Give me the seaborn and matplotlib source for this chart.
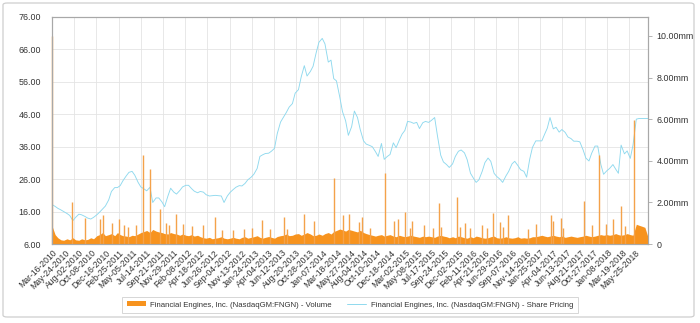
import matplotlib
matplotlib.use("Agg")
import matplotlib.pyplot as plt
import matplotlib.dates as mdates
from matplotlib.patches import Patch, FancyBboxPatch
from matplotlib.lines import Line2D
from matplotlib.ticker import FuncFormatter, FixedLocator
import seaborn as sns
import pandas as pd
import numpy as np

# ---------------- data ----------------
sample_start = "2010-03-15"
sample_end = "2018-08-01"

price = [
    18.2, 17.6, 17.0, 16.5, 16.0, 15.4, 14.8, 13.2, 14.2, 15.2,
    15.0, 14.5, 14.0, 13.7, 14.2, 15.0, 15.8, 16.8, 17.7, 19.6,
    22.2, 23.4, 23.4, 24.0, 25.5, 27.0, 28.1, 28.4, 27.2, 25.0,
    23.6, 23.0, 22.4, 23.5, 18.8, 20.2, 20.2, 19.0, 17.5, 20.8,
    23.2, 22.0, 21.4, 22.5, 23.6, 24.1, 24.1, 23.1, 22.3, 21.8,
    22.2, 22.0, 21.2, 20.8, 20.9, 21.0, 20.9, 20.8, 18.8, 20.8,
    21.9, 22.8, 23.5, 24.0, 23.9, 24.7, 25.8, 26.6, 27.5, 29.3,
    33.0, 33.5, 33.9, 34.0, 34.6, 35.5, 40.0, 43.6, 45.0,
    46.6, 48.2, 49.3, 52.5, 53.6, 57.5, 61.0, 57.8, 59.2, 60.8,
    65.0, 68.2, 69.4, 67.7, 62.1, 62.7, 57.0, 56.3, 51.3, 46.8,
    44.0, 39.5, 42.2, 47.0, 45.0, 41.3, 37.8, 36.8, 36.4, 36.0,
    34.5, 33.0, 37.0, 32.1, 33.0, 33.6, 37.2, 35.7, 38.1, 39.9,
    41.0, 43.8, 43.6, 43.2, 43.5, 41.6, 43.4, 43.8, 43.5, 44.1,
    45.0, 39.5, 33.4, 31.3, 30.5, 29.6, 30.7, 33.0, 34.6, 35.0,
    34.1, 32.0, 27.8, 26.4, 25.0, 25.8, 28.4, 31.1, 32.5, 31.5,
    27.8, 26.8, 26.0, 25.0, 27.0, 28.4, 30.7, 31.5, 30.2, 28.9,
    28.4, 26.6, 32.2, 35.8, 37.8, 37.8, 37.8, 39.8, 41.7, 45.0,
    41.5, 42.0, 40.5, 41.3, 40.4, 39.0, 38.5, 37.7, 37.7, 37.5,
    35.0, 32.5, 31.6, 34.0, 36.2, 36.2, 30.5, 27.5, 28.6, 29.3,
    30.5, 29.1, 27.8, 36.5, 33.8, 34.7, 32.4, 36.5, 44.5, 44.7,
    44.7, 44.7, 44.7,
]

# typical daily volume level (millions) per half month
volume_base = [
    0.9, 0.45, 0.3,
    0.2, 0.18, 0.25, 0.2, 0.3, 0.2, 0.18, 0.25, 0.2, 0.22, 0.3, 0.25,
    0.4, 0.45, 0.55, 0.4, 0.45, 0.5, 0.4, 0.55, 0.45, 0.4, 0.38, 0.35, 0.42, 0.4, 0.48, 0.55,
    0.6, 0.65, 0.55, 0.7, 0.62, 0.58, 0.55, 0.5, 0.48, 0.55, 0.5, 0.48, 0.42, 0.48, 0.42, 0.4,
    0.45, 0.38, 0.42, 0.35,
    0.3, 0.28, 0.32, 0.25, 0.28, 0.3, 0.35, 0.28, 0.25, 0.28, 0.32, 0.28, 0.25, 0.32, 0.35, 0.28,
    0.32, 0.35, 0.4, 0.32, 0.28, 0.32, 0.36, 0.32, 0.28, 0.36, 0.4,
    0.42, 0.48, 0.4, 0.42, 0.48, 0.5, 0.42, 0.48, 0.55, 0.48, 0.4, 0.42, 0.48, 0.42, 0.5, 0.55, 0.48,
    0.6, 0.65, 0.72, 0.68, 0.62, 0.7, 0.66, 0.62, 0.58, 0.66, 0.55, 0.5,
    0.45, 0.42, 0.38, 0.42, 0.45, 0.38, 0.42, 0.45, 0.38, 0.35, 0.42, 0.38, 0.35, 0.38, 0.42, 0.38,
    0.35, 0.32, 0.38, 0.35, 0.38, 0.35, 0.32, 0.38, 0.42,
    0.38, 0.35, 0.3, 0.35, 0.3, 0.38, 0.35, 0.3, 0.28, 0.35, 0.3, 0.38, 0.35, 0.3, 0.28, 0.3,
    0.35, 0.38, 0.3, 0.28, 0.3, 0.35, 0.3, 0.28, 0.3, 0.35, 0.28, 0.3, 0.28, 0.3, 0.35,
    0.35, 0.38, 0.42, 0.38, 0.35, 0.38, 0.42, 0.38, 0.35, 0.38, 0.32, 0.35, 0.38, 0.35, 0.32, 0.35,
    0.38, 0.42, 0.38, 0.35, 0.38, 0.42, 0.45, 0.42,
    0.45, 0.42, 0.45, 0.5, 0.45, 0.42, 0.45, 0.5, 0.45, 0.42,
    0.95, 0.9, 0.85, 0.8, 0.3,
]

spike_dates = [
    "2010-03-16", "2010-06-28", "2010-09-01", "2010-11-17", "2010-12-04",
    "2011-01-16", "2011-02-23", "2011-03-20", "2011-04-10", "2011-05-21",
    "2011-06-27", "2011-08-01", "2011-09-21", "2011-10-20", "2011-11-05",
    "2011-12-12", "2012-01-15", "2012-03-01", "2012-05-01", "2012-07-01",
    "2012-08-07", "2012-10-01", "2012-11-23", "2013-01-05", "2013-02-25",
    "2013-04-09", "2013-06-20", "2013-07-04", "2013-09-30", "2013-11-18",
    "2014-02-28", "2014-04-17", "2014-05-18", "2014-07-10", "2014-07-25",
    "2014-09-03", "2014-11-20", "2015-01-02", "2015-01-27", "2015-03-03",
    "2015-03-28", "2015-04-06", "2015-06-05", "2015-07-23", "2015-08-21",
    "2015-09-02", "2015-11-23", "2015-12-10", "2016-01-05", "2016-01-30",
    "2016-03-30", "2016-04-25", "2016-05-26", "2016-06-29", "2016-07-19",
    "2016-08-14", "2016-11-24", "2017-01-03", "2017-03-21", "2017-04-01",
    "2017-05-11", "2017-05-23", "2017-09-03", "2017-10-19", "2017-11-24",
    "2017-12-28", "2018-02-01", "2018-03-14", "2018-04-05", "2018-05-20",
]
spike_volume = [
    10.0, 2.0, 1.25, 1.2, 1.4,
    1.0, 1.2, 0.9, 0.8, 0.9,
    4.28, 3.6, 1.7, 1.0, 0.9,
    1.45, 0.95, 0.85, 0.9, 1.28,
    0.67, 0.65, 0.7, 0.75, 1.15,
    0.7, 1.28, 0.72, 1.44, 1.1,
    3.15, 1.37, 1.44, 1.07, 1.3,
    0.75, 3.4, 1.1, 1.2, 1.55,
    0.75, 1.1, 0.9, 0.75, 1.95,
    0.8, 2.27, 0.8, 1.0, 0.75,
    0.9, 0.75, 1.5, 1.05, 0.8,
    1.4, 0.7, 0.95, 1.4, 1.1,
    1.25, 0.75, 2.05, 0.9, 4.28,
    0.95, 1.2, 1.83, 0.85, 5.96,
]

tick_labels = [
    "Mar-16-2010", "May-24-2010", "Aug-02-2010", "Oct-08-2010", "Dec-16-2010",
    "Feb-25-2011", "May-05-2011", "Jul-14-2011", "Sep-21-2011", "Nov-29-2011",
    "Feb-08-2012", "Apr-18-2012", "Jun-26-2012", "Sep-04-2012", "Nov-13-2012",
    "Jan-24-2013", "Apr-04-2013", "Jun-12-2013", "Aug-20-2013", "Oct-28-2013",
    "Jan-07-2014", "Mar-18-2014", "May-27-2014", "Aug-04-2014", "Oct-10-2014",
    "Dec-18-2014", "Mar-02-2015", "May-08-2015", "Jul-17-2015", "Sep-24-2015",
    "Dec-02-2015", "Feb-11-2016", "Apr-21-2016", "Jun-29-2016", "Sep-07-2016",
    "Nov-14-2016", "Jan-25-2017", "Apr-04-2017", "Jun-13-2017", "Aug-21-2017",
    "Oct-27-2017", "Jan-08-2018", "Mar-19-2018", "May-25-2018",
]

price_label = "Financial Engines, Inc. (NasdaqGM:FNGN) - Share Pricing"
volume_label = "Financial Engines, Inc. (NasdaqGM:FNGN) - Volume"

# ---------------- build ----------------
dates = pd.date_range(sample_start, sample_end, freq="SMS")
n = min(len(dates), len(price), len(volume_base))
df = pd.DataFrame({"date": dates[:n], "price": price[:n], "vol": volume_base[:n]})
spikes = pd.DataFrame({"date": pd.to_datetime(spike_dates), "vol": spike_volume})
tick_dates = pd.to_datetime(tick_labels, format="%b-%d-%Y")

sns.set_style("white")
plt.rcParams["font.family"] = ["Liberation Sans", "DejaVu Sans"]

ORANGE = "#f7931e"
SPIKE = "#f4a24a"
CYAN = "#8fd9ee"
TXT = "#333333"
GRID = "#e4e4e4"
SPINE = "#a8a8a8"

fig = plt.figure(figsize=(7.0, 3.23), dpi=100)
ax = fig.add_axes([52 / 700, 79 / 323, 596 / 700, 227 / 323])
ax2 = ax.twinx()

# price line on left axis
sns.lineplot(data=df, x="date", y="price", ax=ax, color=CYAN, linewidth=0.65,
             zorder=3)

# volume on right axis
ax2.fill_between(df["date"], 0, df["vol"], color=ORANGE, linewidth=0, zorder=2)
ax2.vlines(spikes["date"], 0, spikes["vol"], color=SPIKE, linewidth=1.0,
           zorder=2, clip_on=False)

x0 = pd.Timestamp("2010-03-16")
x1 = pd.Timestamp("2018-07-31")
ax.set_xlim(x0, x1)
ax.set_ylim(6, 76)
ax2.set_ylim(0, 10.91)

# ticks
ax.set_yticks(np.arange(6, 77, 10))
ax.yaxis.set_major_formatter(FuncFormatter(lambda v, p: f"{v:.2f}"))
ax2.set_yticks([0, 2, 4, 6, 8, 10])
ax2.yaxis.set_major_formatter(
    FuncFormatter(lambda v, p: "0" if abs(v) < 1e-9 else f"{v:.2f}mm"))

ax.set_xticks(tick_dates)
ax.set_xticklabels(tick_labels, rotation=45, ha="right", rotation_mode="anchor")
# vertical grid every ~114 days
gx0 = mdates.date2num(x0)
ax.xaxis.set_minor_locator(FixedLocator([gx0 + i * 113.9 for i in range(0, 27)]))

ax.grid(False)
ax.grid(True, which="minor", axis="x", color=GRID, linewidth=0.6)
ax.grid(True, which="major", axis="y", color=GRID, linewidth=0.6)
ax.set_axisbelow(True)

ax.tick_params(axis="x", which="both", length=0, labelsize=6.2, colors=TXT, pad=3)
ax.tick_params(axis="y", length=0, labelsize=6.4, colors=TXT, pad=8)
ax2.tick_params(axis="y", length=3, width=0.6, color=SPINE, labelsize=6.4,
                colors=TXT, pad=3)
for lab in ax2.get_yticklabels():
    lab.set_color(TXT)
ax.set_xlabel("")
ax.set_ylabel("")
ax2.set_ylabel("")

for a in (ax, ax2):
    for s in a.spines.values():
        s.set_color(SPINE)
        s.set_linewidth(0.8)

# legend
handles = [Patch(facecolor=ORANGE, edgecolor="none"),
           Line2D([0], [0], color=CYAN, linewidth=0.7)]
leg = fig.legend(handles, [volume_label, price_label], loc="center",
                 bbox_to_anchor=(0.5, 18 / 323), ncol=2, fontsize=5.6,
                 frameon=True, fancybox=False, edgecolor="#cccccc",
                 handlelength=2.4, handleheight=0.6, handletextpad=0.6,
                 columnspacing=2.0, borderpad=0.6)
leg.get_frame().set_linewidth(0.7)
for t in leg.get_texts():
    t.set_color(TXT)

# outer frame
fig.patches.append(FancyBboxPatch((3 / 700, 6 / 323), 691 / 700, 314 / 323,
                                  boxstyle="round,pad=0,rounding_size=0.006",
                                  transform=fig.transFigure, fill=False,
                                  edgecolor="#cfcfcf", linewidth=0.9))

fig.savefig("out.png", dpi=100)
